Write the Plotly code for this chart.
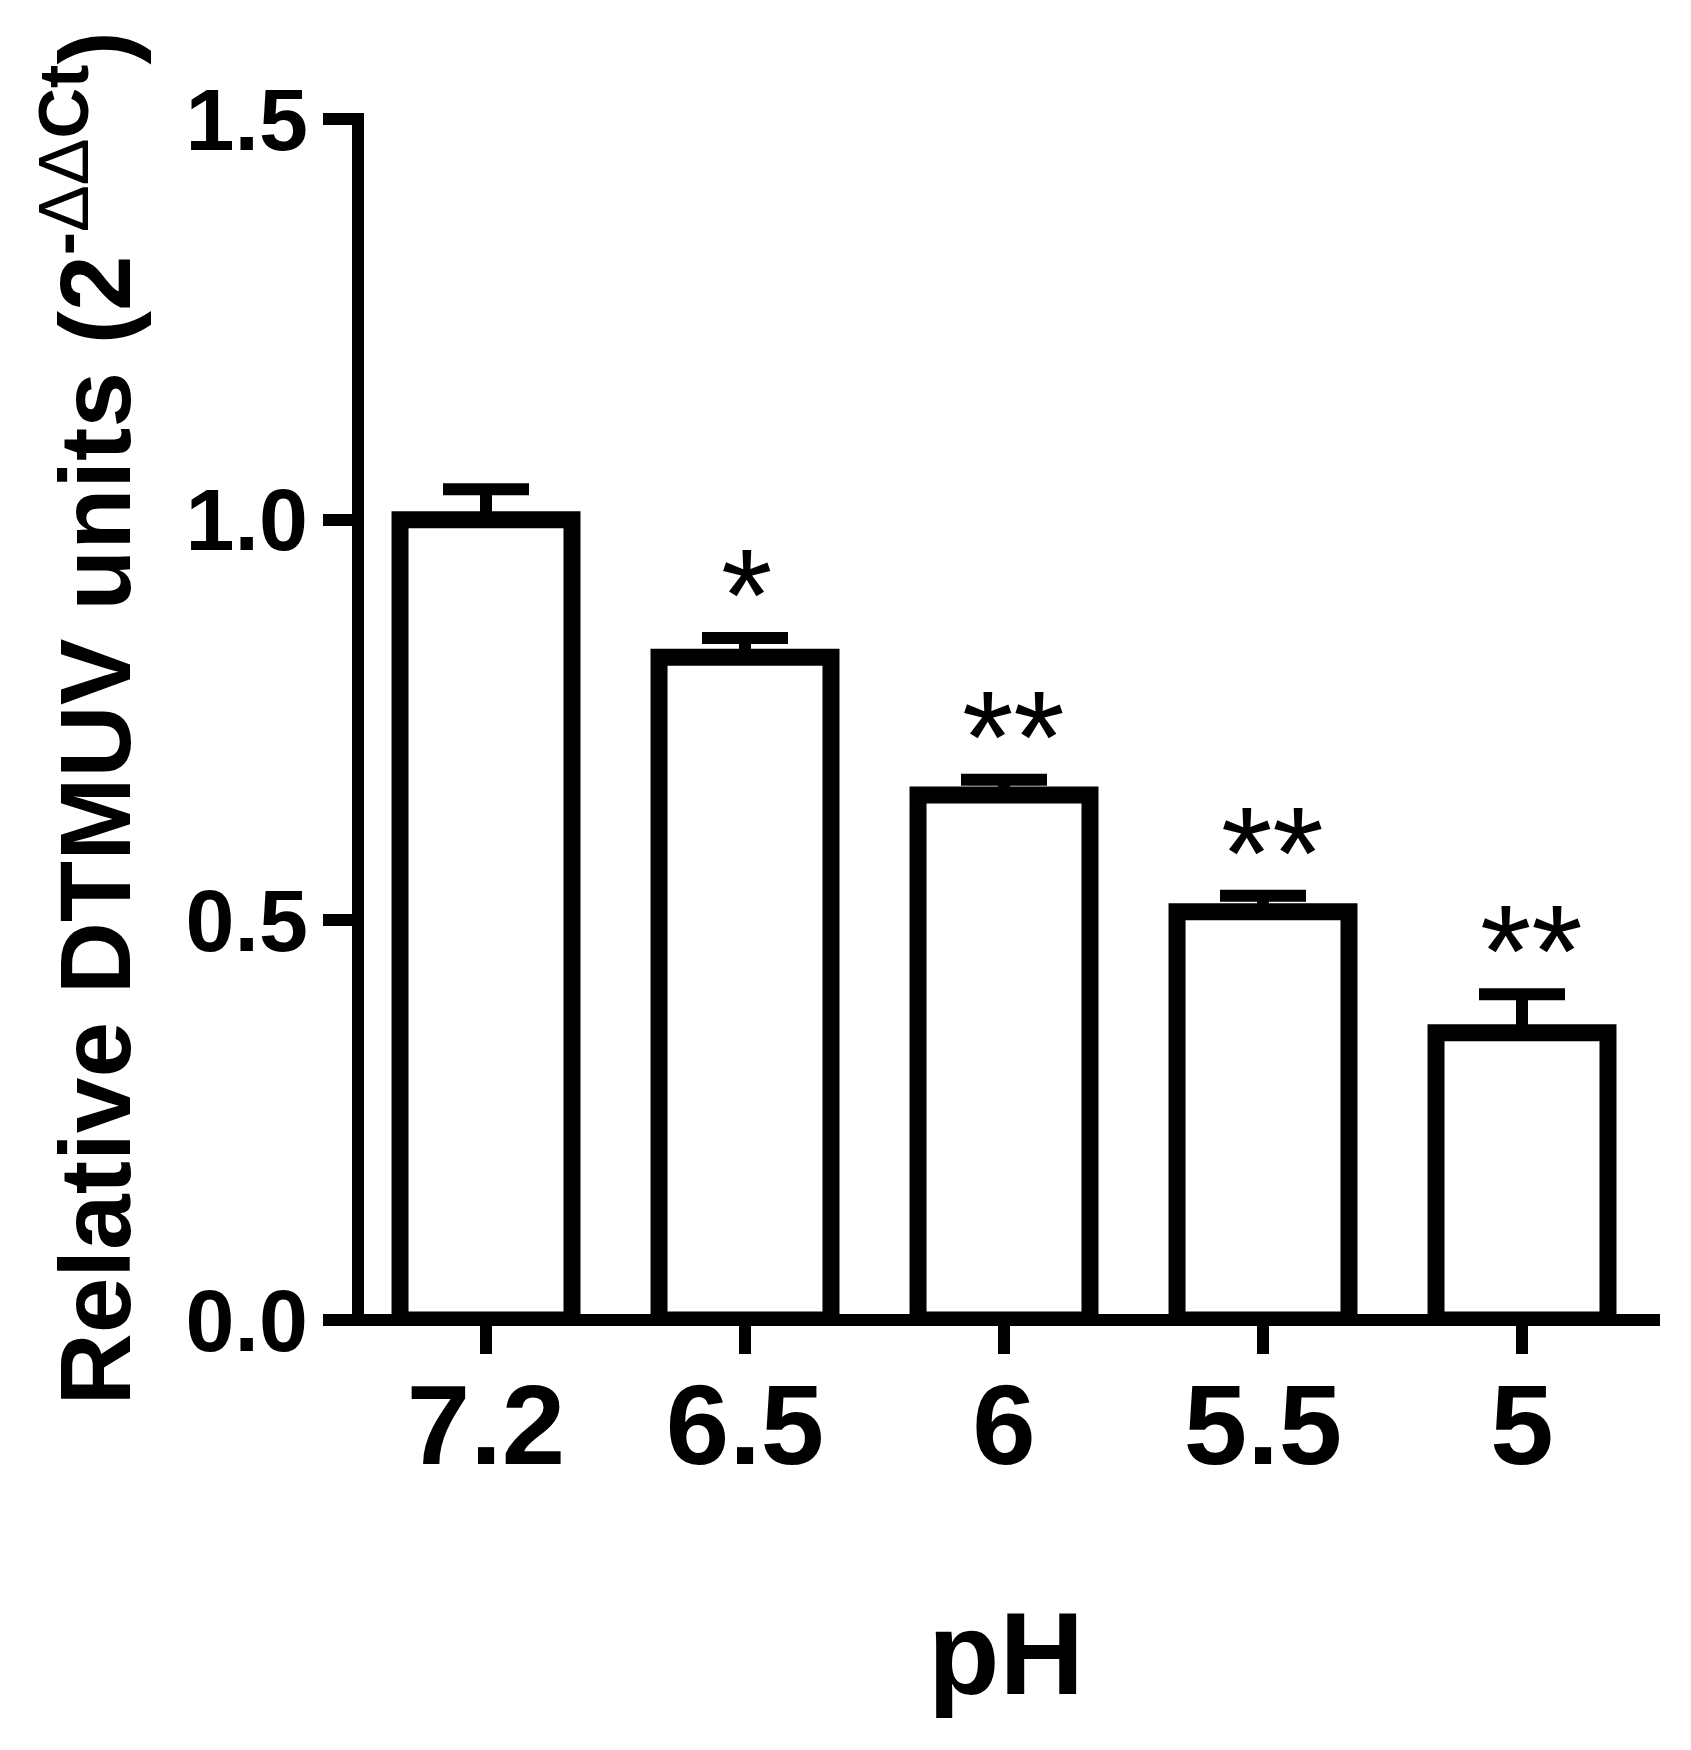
import plotly.graph_objects as go

# ---- data ----
ph_labels = ["7.2", "6.5", "6", "5.5", "5"]
rel_units = [1.0, 0.828, 0.656, 0.510, 0.359]
sem = [0.038, 0.024, 0.019, 0.020, 0.048]
significance = ["", "*", "**", "**", "**"]
y_tickvals = [0, 0.5, 1.0, 1.5]
y_ticktext = ["0.0", "0.5", "1.0", "1.5"]

W, H = 1691, 1750
OFF = 8  # default page margin around the plot div
# plot area in page pixels: left 324, right 1660, top 113, bottom 1323
L = 324 - OFF
T = 113 - OFF
R = W - (1660 - OFF)
B = H - (1323 - OFF)
PW, PH = W - L - R, H - T - B
FONT = "Liberation Sans, Arial, sans-serif"

x_idx = list(range(len(ph_labels)))

fig = go.Figure(
    go.Bar(
        x=x_idx,
        y=rel_units,
        width=0.664,
        marker=dict(color="white", line=dict(color="black", width=17)),
        error_y=dict(
            type="data",
            symmetric=False,
            array=sem,
            arrayminus=[0] * len(sem),
            color="black",
            thickness=12,
            width=43,
        ),
        hoverinfo="skip",
    )
)


def px_to_paper_x(px):
    return (px - OFF - L) / PW


def px_to_paper_y(py):
    return (T + PH - (py - OFF)) / PH


annotations = []
# significance stars
for i, (m, s, sig) in enumerate(zip(rel_units, sem, significance)):
    if sig:
        annotations.append(
            dict(
                x=i, y=m + s, xref="x", yref="y", text=sig, showarrow=False,
                xanchor="center", yanchor="bottom", yshift=-33,
                xshift=(1 if len(sig) == 1 else 9),
                font=dict(family=FONT, size=132, color="black"),
            )
        )

# y-axis title
annotations.append(
    dict(
        text='Relative DTMUV units (2<sup>-<span style="font-weight:normal">ΔΔ</span>Ct</sup>)',
        textangle=-90, showarrow=False,
        xref="paper", yref="paper",
        x=px_to_paper_x(87), y=px_to_paper_y(718.5),
        xanchor="center", yanchor="middle",
        font=dict(family=FONT, size=100, color="black", weight="bold"),
    )
)
# x-axis title
annotations.append(
    dict(
        text="pH", showarrow=False,
        xref="paper", yref="paper",
        x=px_to_paper_x(1006), y=px_to_paper_y(1653),
        xanchor="center", yanchor="middle",
        font=dict(family=FONT, size=117, color="black", weight="bold"),
    )
)

fig.update_layout(
    width=W, height=H,
    margin=dict(l=L, r=R, t=T, b=B, pad=0),
    paper_bgcolor="white", plot_bgcolor="white",
    showlegend=False,
    font=dict(family=FONT, color="black"),
    annotations=annotations,
    xaxis=dict(
        range=[-0.6255, 4.5328],
        tickmode="array", tickvals=x_idx, ticktext=ph_labels,
        ticks="outside", ticklen=30, tickwidth=12, tickcolor="black",
        showline=False, showgrid=False, zeroline=False,
        tickfont=dict(family=FONT, size=114, color="black", weight="bold"),
        ticklabelstandoff=-27,
        fixedrange=True,
    ),
    yaxis=dict(
        range=[-0.00375, 1.5081],
        anchor="free", position=(357.5 - 324) / PW,
        showline=True, linewidth=12, linecolor="black",
        ticks="outside", ticklen=29, tickwidth=12, tickcolor="black",
        tickmode="array", tickvals=y_tickvals, ticktext=y_ticktext,
        tickfont=dict(family=FONT, size=88, color="black", weight="bold"),
        ticklabelstandoff=-3,
        showgrid=False,
        zeroline=True, zerolinewidth=12, zerolinecolor="black",
        fixedrange=True,
    ),
)

fig.write_html("out.html", config={"displayModeBar": False})
